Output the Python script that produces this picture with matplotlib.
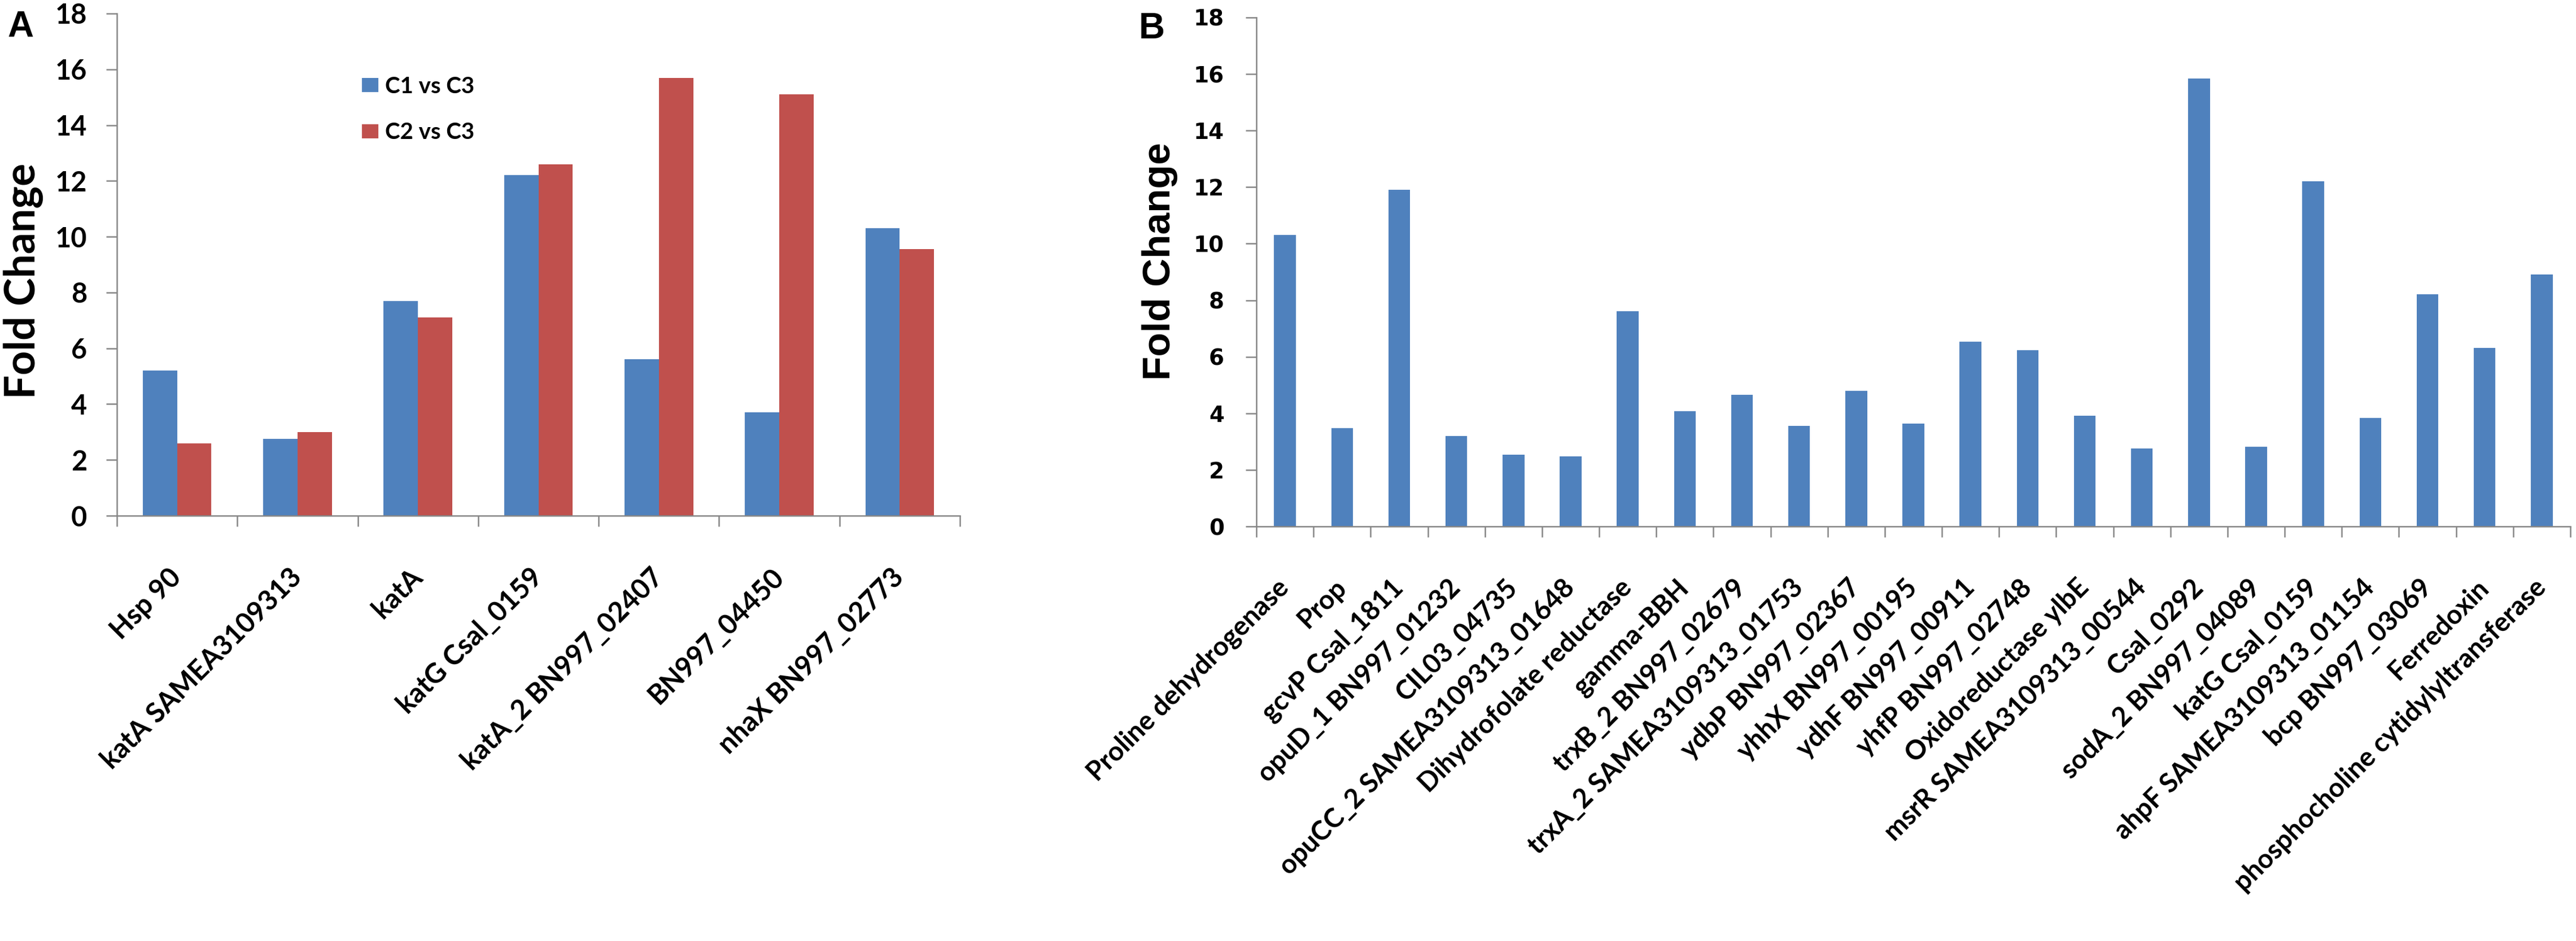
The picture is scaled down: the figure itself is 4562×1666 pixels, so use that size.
import numpy as np
import matplotlib.pyplot as plt
from matplotlib.patches import Patch

# Panel A: two comparisons per gene
genes_a = ['Hsp 90', 'katA SAMEA3109313', 'katA', 'katG Csal_0159',
           'katA_2 BN997_02407', 'BN997_04450', 'nhaX BN997_02773']
c1_vs_c3 = [5.2, 2.75, 7.7, 12.2, 5.6, 3.7, 10.3]
c2_vs_c3 = [2.6, 3.0, 7.1, 12.6, 15.7, 15.1, 9.55]
series_names = ['C1 vs C3', 'C2 vs C3']

# Panel B: single series
genes_b = ['Proline dehydrogenase', 'Prop', 'gcvP Csal_1811', 'opuD_1 BN997_01232',
           'CIL03_04735', 'opuCC_2 SAMEA3109313_01648', 'Dihydrofolate reductase',
           'gamma-BBH', 'trxB_2 BN997_02679', 'trxA_2 SAMEA3109313_01753',
           'ydbP BN997_02367', 'yhhX BN997_00195', 'ydhF BN997_00911',
           'yhfP BN997_02748', 'Oxidoreductase ylbE', 'msrR SAMEA3109313_00544',
           'Csal_0292', 'sodA_2 BN997_04089', 'katG Csal_0159',
           'ahpF SAMEA3109313_01154', 'bcp BN997_03069', 'Ferredoxin',
           'phosphocholine cytidylyltransferase']
fold_b = [10.3, 3.47, 11.9, 3.2, 2.54, 2.47, 7.62, 4.07, 4.65, 3.55, 4.79, 3.63,
          6.53, 6.24, 3.92, 2.75, 15.85, 2.82, 12.2, 3.83, 8.21, 6.31, 8.92]

blue = '#4F81BD'
red = '#C0504D'
grey = '#868686'

W, H = 4562, 1666
fig = plt.figure(figsize=(W / 100, H / 100), dpi=100)
ax_a = fig.add_axes([207 / W, 1 - 913 / H, (1700 - 207) / W, (913 - 24) / H])
ax_b = fig.add_axes([2225 / W, 1 - 932 / H, (4552 - 2225) / W, (932 - 31) / H])


def style_axes(ax, n, tick_font, ypad):
    for s in ['top', 'right']:
        ax.spines[s].set_visible(False)
    for s in ['left', 'bottom']:
        ax.spines[s].set_color(grey)
        ax.spines[s].set_linewidth(1.8)
    ax.set_xlim(-0.5, n - 0.5)
    ax.set_ylim(0, 18)
    ax.set_yticks(range(0, 19, 2))
    ax.set_xticks(np.arange(n))
    ax.set_xticks(np.arange(n + 1) - 0.5, minor=True)
    ax.tick_params(axis='x', which='major', length=0, pad=73)
    ax.tick_params(axis='x', which='minor', length=14, width=1.8, color=grey)
    ax.tick_params(axis='y', length=14, width=1.8, color=grey, pad=ypad)
    for lbl in ax.get_yticklabels():
        lbl.set_fontproperties(tick_font)


# Panel A
x_a = np.arange(len(genes_a))
w_a = 0.285
ax_a.bar(x_a - w_a / 2, c1_vs_c3, w_a, color=blue, label=series_names[0])
ax_a.bar(x_a + w_a / 2, c2_vs_c3, w_a, color=red, label=series_names[1])
style_axes(ax_a, len(genes_a), dict(family='Lato', weight='bold', size=35), 24)
ax_a.set_xticklabels(genes_a, rotation=45, ha='right', va='center',
                     rotation_mode='anchor', fontfamily='Lato',
                     fontweight='bold', fontsize=35)
ax_a.legend(handles=[Patch(facecolor=blue), Patch(facecolor=red)],
            labels=series_names, loc='upper left',
            bbox_to_anchor=(641 / W, 1 - 135 / H), bbox_transform=fig.transFigure,
            frameon=False, borderpad=0, borderaxespad=0,
            handlelength=0.72, handleheight=0.58, handletextpad=0.3,
            labelspacing=1.1, prop=dict(family='Lato', weight='bold', size=29))

# Panel B
x_b = np.arange(len(genes_b))
ax_b.bar(x_b, fold_b, 0.38, color=blue)
style_axes(ax_b, len(genes_b), dict(family='DejaVu Sans', weight='bold', size=28), 27)
ax_b.set_xticklabels(genes_b, rotation=45, ha='right', va='center',
                     rotation_mode='anchor', fontfamily='Lato',
                     fontweight='bold', fontsize=34)

# panel letters and axis titles
fig.text(13 / W, 1 - 18 / H, 'A', fontsize=46, fontweight='bold',
         family='Liberation Sans', ha='left', va='top')
fig.text(2017 / W, 1 - 21 / H, 'B', fontsize=46, fontweight='bold',
         family='Liberation Sans', ha='left', va='top')
fig.text(42 / W, 1 - 497 / H, 'Fold Change', rotation=90, ha='center', va='center',
         fontsize=54, fontweight='bold', family='Lato')
fig.text(2054 / W, 1 - 463 / H, 'Fold Change', rotation=90, ha='center', va='center',
         fontsize=50, fontweight='bold', family='Liberation Sans')

fig.savefig('out.png', dpi=100, facecolor='white')
